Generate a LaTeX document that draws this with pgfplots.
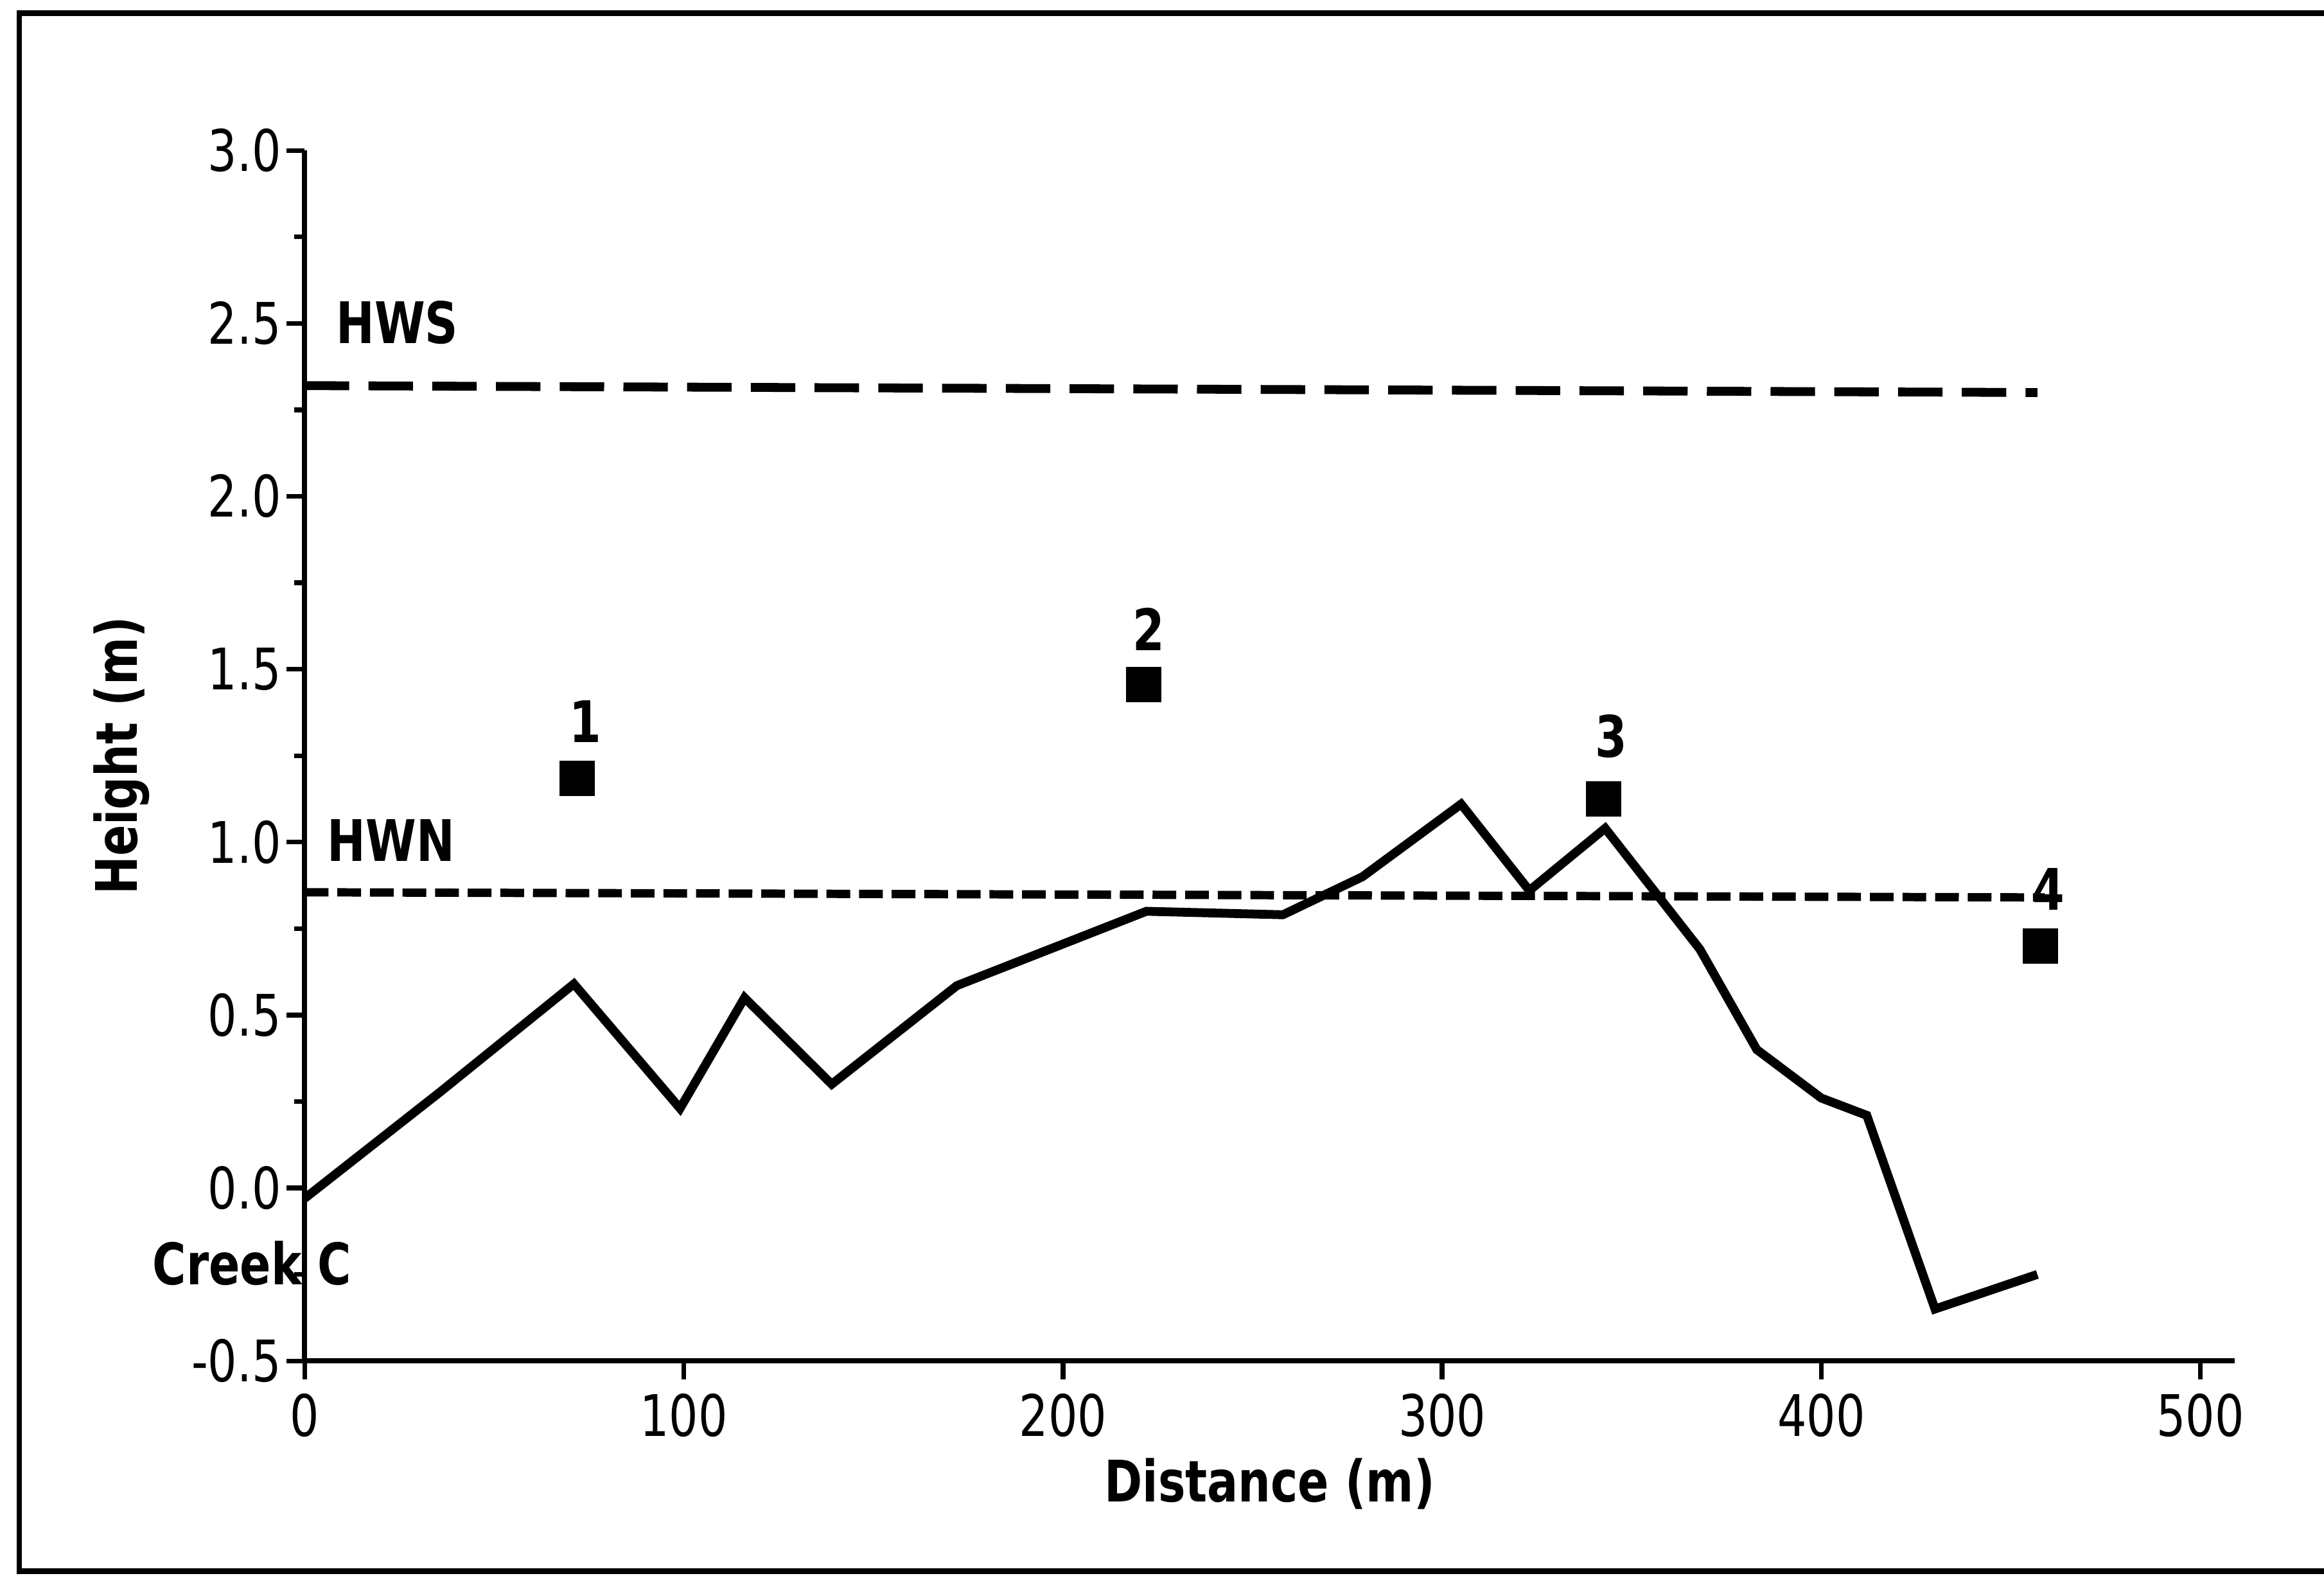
\documentclass[border=0pt]{standalone}
\usepackage{fontspec}
\setmainfont{DejaVu Sans}[FakeStretch=0.8]
\usepackage{pgfplots}
\pgfplotsset{compat=1.18}

\begin{document}
\fontsize{11}{13}\selectfont
\begin{tikzpicture}
\path[use as bounding box] (0,0) rectangle (15.68,10.63);
% open frame (left, top, bottom)
\draw[line width=1.1pt] (15.8,10.54) -- (0.13,10.54) -- (0.13,0.03) -- (15.8,0.03);
\begin{axis}[
  at={(2.056cm,1.45cm)}, anchor=south west,
  scale only axis, width=13.02cm, height=8.165cm,
  xmin=0, xmax=509, ymin=-0.5, ymax=3,
  axis lines*=left,
  axis line style={line width=1pt},
  xtick={0,100,200,300,400,500},
  xticklabels={0,100,200,300,400,500},
  ytick={-0.5,0,0.5,1,1.5,2,2.5,3},
  yticklabels={-0.5,0.0,0.5,1.0,1.5,2.0,2.5,3.0},
  minor ytick={-0.25,0.25,0.75,1.25,1.75,2.25,2.75},
  tick align=outside,
  major tick length=0.125cm, minor tick length=0.07cm,
  tick style={line width=0.9pt, black},
  yticklabel style={inner sep=0.8pt},
  xticklabel style={inner sep=2.5pt},
  xlabel={\bfseries Distance (m)},
  ylabel={\bfseries Height (m)},
  xlabel style={at={(axis description cs:0.5,0)}, anchor=center, yshift=-0.83cm},
  ylabel style={at={(axis description cs:0,0.5)}, anchor=center, yshift=1.236cm},
  clip=false,
]
% creek profile
\addplot[black, line width=1.7pt] coordinates {
  (0,-0.03) (36,0.28) (71,0.59) (99,0.23) (116,0.55) (139,0.30)
  (172,0.585) (222,0.80) (258,0.79) (279,0.90) (305,1.11) (323,0.86)
  (343,1.04) (368,0.69) (383,0.40) (400,0.26) (412,0.21) (430,-0.35)
  (457,-0.25)
};
% high water spring tide
\addplot[black, line width=1.7pt, dash pattern=on 0.30cm off 0.13cm] coordinates {(0,2.32) (457,2.30)};
% high water neap tide
\addplot[black, line width=1.6pt, dash pattern=on 0.16cm off 0.06cm] coordinates {(0,0.855) (459,0.84)};
% sampling stations
\addplot[only marks, mark=square*, mark size=3.2pt, black] coordinates {
  (71.8,1.185) (221.3,1.455) (342.6,1.125) (457.8,0.70)
};
\node[font=\bfseries] at (axis cs:74,1.349) {1};
\node[font=\bfseries] at (axis cs:222.6,1.615) {2};
\node[font=\bfseries] at (axis cs:344.6,1.306) {3};
\node[font=\bfseries] at (axis cs:459.9,0.864) {4};
\node[font=\bfseries] at (axis cs:24.4,2.502) {HWS};
\node[font=\bfseries] at (axis cs:22.8,1.005) {HWN};
\node[font=\bfseries] at (axis cs:-13.9,-0.217) {Creek C};
\end{axis}
\end{tikzpicture}
\end{document}
